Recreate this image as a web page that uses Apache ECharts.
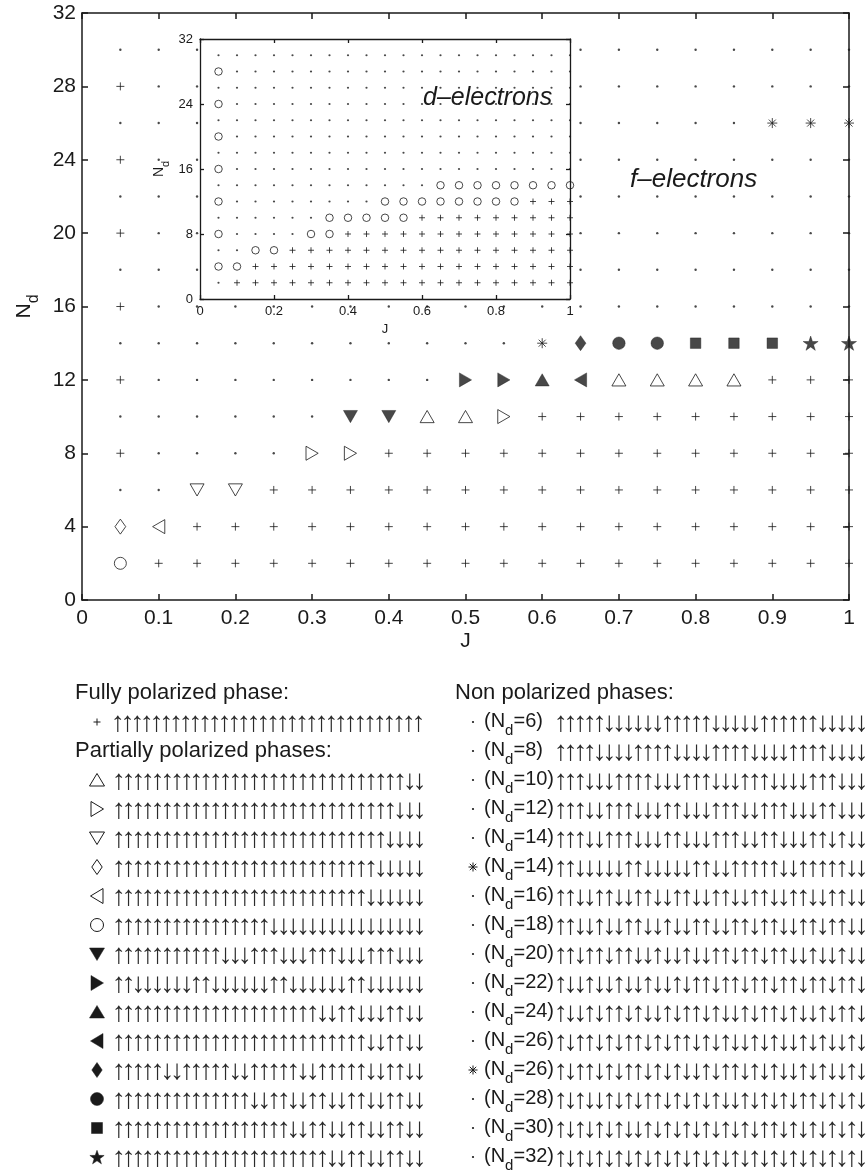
<!DOCTYPE html>
<html>
<head>
<meta charset="utf-8">
<script src="https://cdn.jsdelivr.net/npm/echarts@6/dist/echarts.min.js"></script>
<style>
html, body { margin: 0; padding: 0; background: #fff; }
#main { width: 866px; height: 1174px; }
</style>
</head>
<body>
<div id="main"></div>
<script>
// J columns and N_d rows shared by both panels
var J = [0.05, 0.10, 0.15, 0.20, 0.25, 0.30, 0.35, 0.40, 0.45, 0.50,
         0.55, 0.60, 0.65, 0.70, 0.75, 0.80, 0.85, 0.90, 0.95, 1.00];
var Nd = [2, 4, 6, 8, 10, 12, 14, 16, 18, 20, 22, 24, 26, 28, 30];

// phase code per (N_d row, J column), spaces only for readability
// + fully polarized, . non polarized, * other non polarized, rest = partial phases
var fRows = [
  'o++++ +++++ +++++ +++++',
  'd<+++ +++++ +++++ +++++',
  '..vv+ +++++ +++++ +++++',
  '+.... >>+++ +++++ +++++',
  '..... .VV^^ >++++ +++++',
  '+.... ....R RAL^^ ^^+++',
  '..... ..... .*DOO SSSPP',
  '+.... ..... ..... .....',
  '..... ..... ..... .....',
  '+.... ..... ..... .....',
  '..... ..... ..... .....',
  '+.... ..... ..... .....',
  '..... ..... ..... ..***',
  '+.... ..... ..... .....',
  '..... ..... ..... .....'
];
var dRows = [
  '.++++ +++++ +++++ +++++',
  'oo+++ +++++ +++++ +++++',
  '..oo+ +++++ +++++ +++++',
  'o.... oo+++ +++++ +++++',
  '..... .oooo o++++ +++++',
  'o.... ....o ooooo oo+++',
  '..... ..... ..ooo ooooo',
  'o.... ..... ..... .....',
  '..... ..... ..... .....',
  'o.... ..... ..... .....',
  '..... ..... ..... .....',
  'o.... ..... ..... .....',
  '..... ..... ..... .....',
  'o.... ..... ..... .....',
  '..... ..... ..... .....'
];

var xTicks = ['0', '0.1', '0.2', '0.3', '0.4', '0.5', '0.6', '0.7', '0.8', '0.9', '1'];
var yTicks = ['0', '4', '8', '12', '16', '20', '24', '28', '32'];

// legend: spin configurations (U = up, D = down)
var fullSpin = 'UUUUUUUU UUUUUUUU UUUUUUUU UUUUUUUU';
var partialMarks = ['^', '>', 'v', 'd', '<', 'o', 'V', 'R', 'A', 'L', 'D', 'O', 'S', 'P'];
var partialSpins = [
  'UUUUUUUU UUUUUUUU UUUUUUUU UUUUUUDD',
  'UUUUUUUU UUUUUUUU UUUUUUUU UUUUUDDD',
  'UUUUUUUU UUUUUUUU UUUUUUUU UUUUDDDD',
  'UUUUUUUU UUUUUUUU UUUUUUUU UUUDDDDD',
  'UUUUUUUU UUUUUUUU UUUUUUUU UUDDDDDD',
  'UUUUUUUU UUUUUUUU DDDDDDDD DDDDDDDD',
  'UUUUUUUU UUUDDDUU UDDDUUUD DDUUUDDD',
  'UUDDDDDD UUDDDDDD UUDDDDDD UUDDDDDD',
  'UUUUUUUU UUUUUUUU UUUUUDDU UDDDUUDD',
  'UUUUUUUU UUUUUUUU UUUUUUUU UUDDUUDD',
  'UUUUUDDU UUUUDDUU UUUDDUUU UUDDUUDD',
  'UUUUUUUU UUUUUUDD UUDDUUDD UUDDUUDD',
  'UUUUUUUU UUUUUUUU UUDDUUDD UUDDUUDD',
  'UUUUUUUU UUUUUUUU UUUUUUDD UUDDUUDD'
];
var nonNd = [6, 8, 10, 12, 14, 14, 16, 18, 20, 22, 24, 26, 26, 28, 30, 32];
var nonMarks = ['.', '.', '.', '.', '.', '*', '.', '.', '.', '.', '.', '.', '*', '.', '.', '.'];
var nonSpins = [
  'UUUUUDDD DDDUUUUU DDDDDUUU UUUDDDDD',
  'UUUUDDDD UUUUDDDD UUUUDDDD UUUUDDDD',
  'UUUDDDUU UUDDDUUU DDDUUUDD DDUUUDDD',
  'UUUDDUUU DDDUUDDD UUUDDUUU DDDUUDDD',
  'UUUDDUUU DDDUUDDD UUUDDUUD DDUUDUDD',
  'UUDDDDDU UDDDDDUU DDUUUUUD DUUUUUDD',
  'UUDDUUDD UUDDUUDD UUDDUUDD UUDDUUDD',
  'UUDDUDDU UDDUDDUU DDUUDUUD DUUDUUDD',
  'UUDUUDUU DDUDDUDD UUDUUDUU DDUDDUDD',
  'UDDUDDUD DUDDUDUU DUUDUUDU UDUUDUUD',
  'UDDUDUUD UDDUDUUD UDDUDUUD UDDUDUUD',
  'UDUUDUDU UDUDUUDU DUDDUDUD DUDUDDUD',
  'UDUUDUDU UDUDUDDU DUUDUDUD DUDUDDUD',
  'UDUDDUDU DUUDUDUD UDDUDUDU DUUDUDUD',
  'UDUDUDUD DUDUDUDU DUDUDUUD UDUDUDUD',
  'UDUDUDUD UDUDUDUD UDUDUDUD UDUDUDUD'
];

var FONT = 'Liberation Sans';
var INK = '#1a1a1a';

var hollow = { color: 'rgba(0,0,0,0)', borderColor: INK, borderWidth: 1 };
var solid = { color: INK, borderColor: INK, borderWidth: 0.5 };
var starPath = 'path://M10,0L12.25,6.91L19.51,6.91L13.63,11.18L15.88,18.09L10,13.82L4.12,18.09L6.37,11.18L0.49,6.91L7.75,6.91Z';
var marks = {
  '+': { symbol: 'path://M0,5L10,5M5,0L5,10', size: 8, style: hollow },
  '.': { symbol: 'circle', size: 2.4, style: { color: INK, borderWidth: 0 } },
  '*': { symbol: 'path://M0,5L10,5M5,0L5,10M1.5,1.5L8.5,8.5M1.5,8.5L8.5,1.5', size: 10, style: hollow },
  'o': { symbol: 'circle', size: 12, style: hollow },
  'O': { symbol: 'circle', size: 12.5, style: solid },
  '^': { symbol: 'path://M5,0L10,8.7L0,8.7Z', size: 14, style: hollow },
  'v': { symbol: 'path://M0,0L10,0L5,8.7Z', size: 14, style: hollow },
  '>': { symbol: 'path://M0,0L8.7,5L0,10Z', size: 14, style: hollow },
  '<': { symbol: 'path://M8.7,0L0,5L8.7,10Z', size: 14, style: hollow },
  'A': { symbol: 'path://M5,0L10,8.7L0,8.7Z', size: 14, style: solid },
  'V': { symbol: 'path://M0,0L10,0L5,8.7Z', size: 14, style: solid },
  'R': { symbol: 'path://M0,0L8.7,5L0,10Z', size: 14, style: solid },
  'L': { symbol: 'path://M8.7,0L0,5L8.7,10Z', size: 14, style: solid },
  'd': { symbol: 'path://M5,0L10,7L5,14L0,7Z', size: 15, style: hollow },
  'D': { symbol: 'path://M5,0L10,7L5,14L0,7Z', size: 15, style: solid },
  'S': { symbol: 'rect', size: 10.5, style: solid },
  'P': { symbol: starPath, size: 15, style: solid }
};

function buildSeries(rows, axisIndex, sizes, z) {
  var byCode = {};
  rows.forEach(function (row, r) {
    row.replace(/ /g, '').split('').forEach(function (c, k) {
      (byCode[c] = byCode[c] || []).push([J[k], Nd[r]]);
    });
  });
  return Object.keys(byCode).map(function (code) {
    var m = marks[code];
    return {
      type: 'scatter',
      xAxisIndex: axisIndex,
      yAxisIndex: axisIndex,
      z: z,
      silent: true,
      clip: false,
      symbol: m.symbol,
      symbolSize: (sizes && sizes[code]) || m.size,
      symbolKeepAspect: true,
      itemStyle: m.style,
      data: byCode[code]
    };
  });
}

function valueAxis(grid, pos, min, max, step, labels, opt) {
  var lw = opt.lineWidth;
  return {
    type: 'value', gridIndex: grid, position: pos,
    min: min, max: max, interval: step, z: opt.z,
    axisLine: { show: true, onZero: false, lineStyle: { color: INK, width: lw } },
    axisTick: { show: true, inside: true, length: opt.tick, lineStyle: { color: INK, width: lw } },
    splitLine: { show: false },
    axisLabel: {
      show: !!labels, margin: opt.margin, color: INK, fontFamily: FONT, fontSize: opt.font,
      formatter: function (v) { return labels ? labels[Math.round((v - min) / step)] : ''; }
    }
  };
}

var mainOpt = { lineWidth: 1.5, tick: 6, margin: 8, font: 21, z: 0 };
var insetOpt = { lineWidth: 1.3, tick: 4, margin: 6, font: 13, z: 6 };
var insetX = ['0', '0.2', '0.4', '0.6', '0.8', '1'];
var insetY = ['0', '8', '16', '24', '32'];

var xAxes = [
  valueAxis(0, 'bottom', 0, 1, 0.1, xTicks, mainOpt),
  valueAxis(0, 'top', 0, 1, 0.1, null, mainOpt),
  valueAxis(1, 'bottom', 0, 1, 0.2, insetX, insetOpt),
  valueAxis(1, 'top', 0, 1, 0.2, null, insetOpt)
];
var yAxes = [
  valueAxis(0, 'left', 0, 32, 4, yTicks, mainOpt),
  valueAxis(0, 'right', 0, 32, 4, null, mainOpt),
  valueAxis(1, 'left', 0, 32, 8, insetY, insetOpt),
  valueAxis(1, 'right', 0, 32, 8, null, insetOpt)
];
yAxes[2].axisLabel.margin = 7;
yAxes[0].axisLabel.margin = 6;

// axis names
function subName(size, sub, drop) {
  return {
    rich: {
      n: { fontFamily: FONT, fontSize: size, color: INK, verticalAlign: 'top', lineHeight: size + 2 },
      s: { fontFamily: FONT, fontSize: sub, color: INK, verticalAlign: 'top', lineHeight: sub, padding: [drop, 0, 0, 0] }
    }
  };
}
xAxes[0].name = 'J';
xAxes[0].nameLocation = 'middle';
xAxes[0].nameGap = 31;
xAxes[0].nameTextStyle = { fontFamily: FONT, fontSize: 21, color: INK };
yAxes[0].name = '{n|N}{s|d}';
yAxes[0].nameLocation = 'middle';
yAxes[0].nameGap = 36;
yAxes[0].nameRotate = 90;
yAxes[0].nameTextStyle = subName(21, 16, 12);
xAxes[2].name = 'J';
xAxes[2].nameLocation = 'middle';
xAxes[2].nameGap = 24;
xAxes[2].nameTextStyle = { fontFamily: FONT, fontSize: 13, color: INK };
yAxes[2].name = '{n|N}{s|d}';
yAxes[2].nameLocation = 'middle';
yAxes[2].nameGap = 32;
yAxes[2].nameRotate = 90;
yAxes[2].nameTextStyle = subName(14, 11, 8);

// ---------- legend below the plot ----------
var rowY = function (i) { return 693 + 29 * i; };
var PITCH = 9.7;

function label(str, x, y, size, extra) {
  var st = { text: str, fontFamily: FONT, fontSize: size, fill: INK, verticalAlign: 'middle', textVerticalAlign: 'middle' };
  for (var k in (extra || {})) st[k] = extra[k];
  return { type: 'text', x: x, y: y, z: 20, silent: true, style: st };
}

function spinRow(spins, xFirst, y) {
  var s = spins.replace(/ /g, '').split('').map(function (c) {
    return c === 'U' ? '{a|\u2191}' : '{a|\u2193}';
  }).join('');
  return {
    type: 'text', x: xFirst - PITCH / 2, y: y + 1, z: 20, silent: true,
    style: {
      text: s, verticalAlign: 'middle', textVerticalAlign: 'middle',
      rich: { a: { width: PITCH, align: 'center', fontFamily: FONT, fontSize: 28, lineHeight: 28, fill: '#2a2a2a', color: '#2a2a2a' } }
    }
  };
}

function markEls(code, cx, cy) {
  var hs = { fill: 'none', stroke: INK, lineWidth: 1 };
  var ss = { fill: INK, stroke: INK, lineWidth: 0.5 };
  function poly(pts, st) {
    return [{ type: 'polygon', z: 20, silent: true, shape: { points: pts.map(function (p) { return [cx + p[0], cy + p[1]]; }) }, style: st }];
  }
  function seg(x1, y1, x2, y2) {
    return { type: 'line', z: 20, silent: true, shape: { x1: cx + x1, y1: cy + y1, x2: cx + x2, y2: cy + y2 }, style: { stroke: INK, lineWidth: 1 } };
  }
  var up = [[0, -6.5], [7.5, 6], [-7.5, 6]], dn = [[-7.5, -6], [7.5, -6], [0, 6.5]];
  var rt = [[-6, -7.5], [6.5, 0], [-6, 7.5]], lt = [[6, -7.5], [-6.5, 0], [6, 7.5]];
  var dia = [[0, -7.5], [5.2, 0], [0, 7.5], [-5.2, 0]];
  switch (code) {
    case '+': return [seg(-3.5, 0, 3.5, 0), seg(0, -3.5, 0, 3.5)];
    case '.': return [{ type: 'circle', z: 20, silent: true, shape: { cx: cx, cy: cy, r: 1.1 }, style: { fill: INK } }];
    case '*': return [seg(-4.5, 0, 4.5, 0), seg(0, -4.5, 0, 4.5), seg(-3.2, -3.2, 3.2, 3.2), seg(-3.2, 3.2, 3.2, -3.2)];
    case 'o': return [{ type: 'circle', z: 20, silent: true, shape: { cx: cx, cy: cy, r: 6.5 }, style: hs }];
    case 'O': return [{ type: 'circle', z: 20, silent: true, shape: { cx: cx, cy: cy, r: 6.5 }, style: ss }];
    case '^': return poly(up, hs);
    case 'v': return poly(dn, hs);
    case '>': return poly(rt, hs);
    case '<': return poly(lt, hs);
    case 'A': return poly(up, ss);
    case 'V': return poly(dn, ss);
    case 'R': return poly(rt, ss);
    case 'L': return poly(lt, ss);
    case 'd': return poly(dia, hs);
    case 'D': return poly(dia, ss);
    case 'S': return [{ type: 'rect', z: 20, silent: true, shape: { x: cx - 5.5, y: cy - 5.5, width: 11, height: 11 }, style: ss }];
    case 'P':
      var pts = [];
      for (var i = 0; i < 10; i++) {
        var r = i % 2 ? 3 : 7.5, a = -Math.PI / 2 + i * Math.PI / 5;
        pts.push([r * Math.cos(a), r * Math.sin(a) + 0.8]);
      }
      return poly(pts, ss);
  }
  return [];
}

var graphics = [];
graphics.push(label('d\u2013electrons', 423, 98, 25, { fontStyle: 'italic' }));
graphics.push(label('f\u2013electrons', 630, 180, 26, { fontStyle: 'italic' }));
graphics[0].z = 30;

graphics.push(label('Fully polarized phase:', 75, rowY(0), 22));
graphics = graphics.concat(markEls('+', 97, rowY(1)));
graphics.push(spinRow(fullSpin, 118, rowY(1)));
graphics.push(label('Partially polarized phases:', 75, rowY(2), 22));
partialMarks.forEach(function (m, i) {
  graphics = graphics.concat(markEls(m, 97, rowY(i + 3)));
  graphics.push(spinRow(partialSpins[i], 119, rowY(i + 3)));
});

graphics.push(label('Non polarized phases:', 455, rowY(0), 22));
nonNd.forEach(function (n, i) {
  var y = rowY(i + 1);
  graphics = graphics.concat(markEls(nonMarks[i], 473, y));
  graphics.push({
    type: 'text', x: 484, y: y - 11, z: 20, silent: true,
    style: {
      text: '{t|(N}{s|d}{t|=' + n + ')}', verticalAlign: 'top', textVerticalAlign: 'top',
      rich: {
        t: { fontFamily: FONT, fontSize: 20, fill: INK, color: INK, verticalAlign: 'top', lineHeight: 22 },
        s: { fontFamily: FONT, fontSize: 15, fill: INK, color: INK, verticalAlign: 'top', lineHeight: 15, padding: [12, 0, 0, 0] }
      }
    }
  });
  graphics.push(spinRow(nonSpins[i], 561, y));
});

var chart = echarts.init(document.getElementById('main'));
chart.setOption({
  animation: false,
  backgroundColor: '#fff',
  grid: [
    { left: 82, top: 13, width: 767, height: 587, show: false },
    { left: 200, top: 39, width: 370, height: 260, show: true, backgroundColor: '#fff', borderWidth: 0, z: 5 }
  ],
  xAxis: xAxes,
  yAxis: yAxes,
  series: buildSeries(fRows, 0, null, 2)
    .concat(buildSeries(dRows, 2, { '+': 6, '.': 2.2, 'o': 7.5 }, 7)),
  graphic: { elements: graphics }
});
</script>
</body>
</html>
